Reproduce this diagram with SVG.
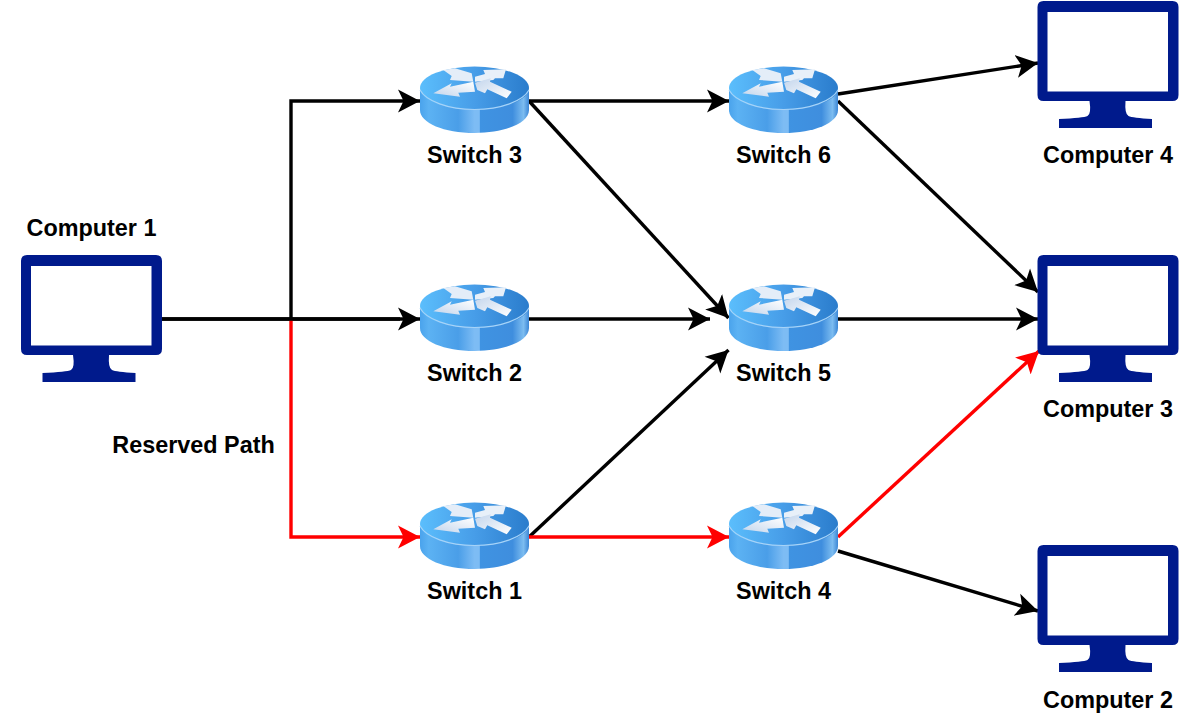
<svg xmlns="http://www.w3.org/2000/svg" width="1200" height="728" viewBox="0 0 1200 728">
<style>
text{font-family:"Liberation Sans",Arial,sans-serif;font-weight:700;font-size:23.400px;fill:#000;text-anchor:middle}
.c{fill:none;stroke:#000;stroke-width:3.400}
.r{stroke:#f00}
</style>
<defs>
<marker id="ab" markerUnits="userSpaceOnUse" markerWidth="26" markerHeight="26" refX="22" refY="12" orient="auto"><path d="M0 0.500L22 12L0 23.500L5.500 12Z" fill="#000"/></marker>
<marker id="ar" markerUnits="userSpaceOnUse" markerWidth="26" markerHeight="26" refX="22" refY="12" orient="auto"><path d="M0 0.500L22 12L0 23.500L5.500 12Z" fill="#f00"/></marker>
<linearGradient id="side" x1="0" x2="1" y1="0" y2="0">
<stop offset="0" stop-color="#4aa3ec"/><stop offset=".08" stop-color="#5cb2f3"/><stop offset=".35" stop-color="#4a9ee8"/><stop offset=".5" stop-color="#7dbcf4"/><stop offset=".545" stop-color="#7dbcf4"/><stop offset=".55" stop-color="#3f93e2"/><stop offset=".85" stop-color="#3f8ede"/><stop offset=".95" stop-color="#7cbcf0"/><stop offset="1" stop-color="#3b86d6"/>
</linearGradient>
<linearGradient id="top" x1="0" x2="1" y1="0" y2="0">
<stop offset="0" stop-color="#5bbefc"/><stop offset=".5" stop-color="#479de8"/><stop offset="1" stop-color="#2a7ccc"/>
</linearGradient>
<linearGradient id="arw" x1="0" x2="1" y1="1" y2="0">
<stop offset="0" stop-color="#c3d5ec"/><stop offset="1" stop-color="#ffffff"/>
</linearGradient>
<linearGradient id="arx" x1="0" x2="1" y1="0" y2="1">
<stop offset="0" stop-color="#c3d5ec"/><stop offset="1" stop-color="#ffffff"/>
</linearGradient>
<g id="sw">
<path d="M0 25V44C0 57 24 67 54.500 67S109 57 109 44V25Z" fill="url(#side)"/>
<ellipse cx="54.500" cy="22" rx="54.500" ry="21.500" fill="url(#top)"/>
<path d="M0 24C6 35 28 43.500 54.500 43.500S103 35 109 24" fill="none" stroke="#a6d3f8" stroke-width="1.200"/>
<path d="M23.300 4L35 2.300L51.700 7.300L53.300 15.700L30 14L31.700 10Z" fill="#e4edf8"/>
<path d="M13.300 27.300L31.700 17.300L30 20.700L53.300 15.700L55 25.700L38.300 26.700L40 30.700Z" fill="url(#arw)"/>
<path d="M55 10.700L65 8L63.300 4L86 3.300L83.300 12.300L75 12.300L73.300 14L55 15.700Z" fill="#e8f0f9"/>
<path d="M55 16.700L70.700 12.300L70 15.700L91.700 25.700L86.700 32.300L67.300 23.300L65 27.300L57.300 24Z" fill="url(#arx)"/>
</g>
<g id="pc">
<path fill-rule="evenodd" fill="#001a8c" d="M6 0H135Q141 0 141 6V94Q141 100 135 100H88Q87 113 91 115Q95 117 114.500 118V127H21.500V118Q46 117 50 115Q54 113 52 100H6Q0 100 0 94V6Q0 0 6 0ZM10 11V90.500H130.500V11Z"/>
</g>
</defs>
<g id="connectors">
<path class="c" marker-end="url(#ab)" d="M162 319H420"/>
<path class="c" marker-end="url(#ab)" d="M291 319V101H420"/>
<path class="c r" marker-end="url(#ar)" d="M291 319V537H420"/>
<path class="c" d="M162 319H400"/>
<path class="c" marker-end="url(#ab)" d="M529 101H729"/>
<path class="c" marker-end="url(#ab)" d="M529 101L728.500 318"/>
<path class="c" marker-end="url(#ab)" d="M529 319H710"/>
<path class="c" marker-end="url(#ab)" d="M529 537L728.500 350"/>
<path class="c r" marker-end="url(#ar)" d="M529 537H729"/>
<path class="c" marker-end="url(#ab)" d="M838 94L1038 63"/>
<path class="c" marker-end="url(#ab)" d="M838 101L1038 292"/>
<path class="c" marker-end="url(#ab)" d="M838 319H1038"/>
<path class="c r" marker-end="url(#ar)" d="M838 537L1039 351"/>
<path class="c" marker-end="url(#ab)" d="M838 551L1038 611"/>
</g>
<g id="computer1"><use href="#pc" x="21" y="255"/><text x="91.500" y="236">Computer 1</text></g>
<g id="computer2"><use href="#pc" x="1037.500" y="545"/><text x="1108" y="708">Computer 2</text></g>
<g id="computer3"><use href="#pc" x="1037.500" y="255"/><text x="1108" y="417">Computer 3</text></g>
<g id="computer4"><use href="#pc" x="1037.500" y="1"/><text x="1108" y="163">Computer 4</text></g>
<g id="switch1"><use href="#sw" x="420" y="502"/><text x="474.500" y="599">Switch 1</text></g>
<g id="switch2"><use href="#sw" x="420" y="284"/><text x="474.500" y="381">Switch 2</text></g>
<g id="switch3"><use href="#sw" x="420" y="66"/><text x="474.500" y="163">Switch 3</text></g>
<g id="switch4"><use href="#sw" x="729" y="502"/><text x="783.500" y="599">Switch 4</text></g>
<g id="switch5"><use href="#sw" x="729" y="284"/><text x="783.500" y="381">Switch 5</text></g>
<g id="switch6"><use href="#sw" x="729" y="66"/><text x="783.500" y="163">Switch 6</text></g>
<text id="reserved-path" x="193.500" y="453">Reserved Path</text>
</svg>
